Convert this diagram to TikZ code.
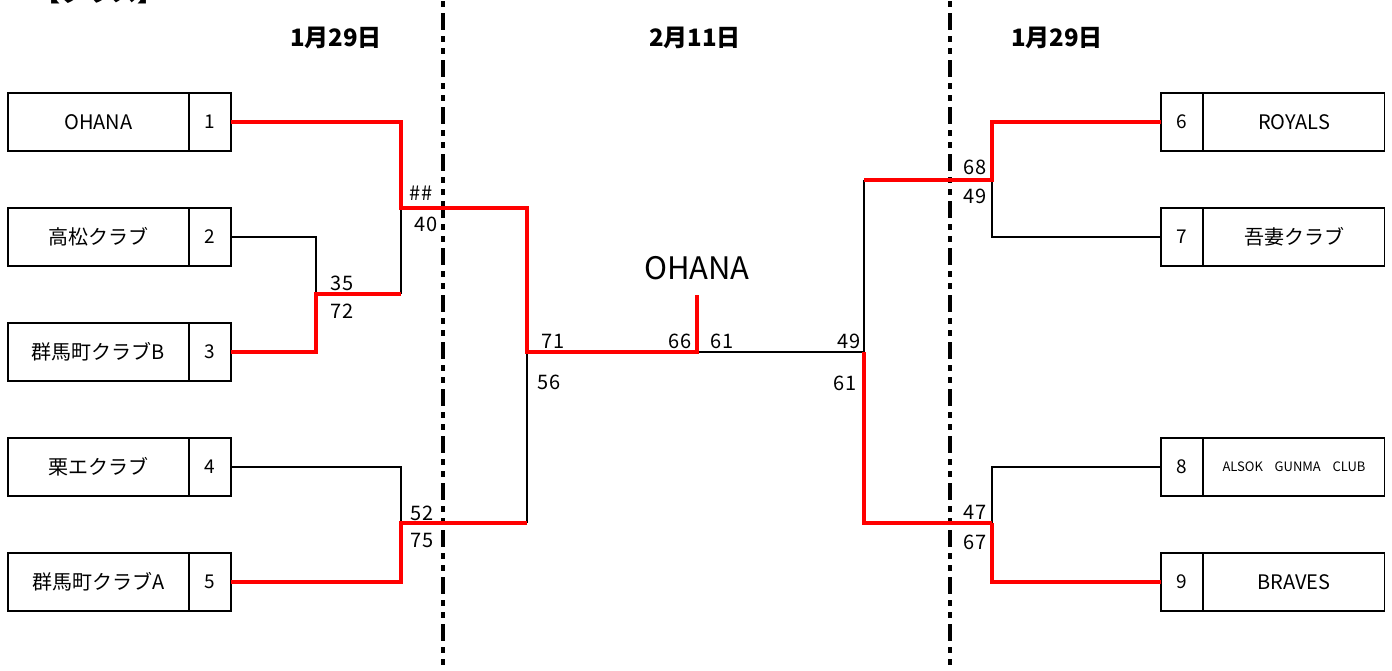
\documentclass[tikz,border=0pt]{standalone}
\usepackage{fontspec}
\setmainfont{Noto Sans CJK JP}
\begin{document}
\begin{tikzpicture}[x=1pt,y=-1pt,
  box/.style={draw,line width=1.6pt,inner sep=0pt,outer sep=0pt,minimum height=58pt,font=\fontsize{20}{20}\selectfont},
  namebox/.style={box,minimum width=181pt},
  seedbox/.style={box,minimum width=42pt,font=\fontsize{19}{19}\selectfont},
  thin/.style={line width=1.5pt,black},
  win/.style={line width=4.5pt,red,line join=miter},
  score/.style={inner sep=0pt,font=\fontsize{20}{20}\selectfont},
  date/.style={inner sep=0pt,font=\fontsize{24}{24}\selectfont\bfseries},
  sep/.style={line width=4pt,dash pattern=on 17pt off 6pt on 6pt off 6pt on 6pt off 6pt}]
\useasboundingbox (0,0) rectangle (1392,670);
% title (cut off at the top edge, as in the reference)
\node[inner sep=0pt,font=\fontsize{26}{26}\selectfont\bfseries,anchor=center] (title) at (99,-8) {【クラス】};
% dates
\node[date] (d1) at (336,38) {1月29日};
\node[date] (d2) at (695,38) {2月11日};
\node[date] (d3) at (1057,38) {1月29日};
% separators
\coordinate (v1t) at (443,-34); \coordinate (v1b) at (443,680);
\coordinate (v2t) at (950,-34); \coordinate (v2b) at (950,680);
\draw[sep] (v1t) -- (v1b);
\draw[sep] (v2t) -- (v2b);
% left boxes
\node[namebox] (n1) at (98.5,122) {OHANA};
\node[seedbox] (s1) at (210,122) {1};
\node[namebox] (n2) at (98.5,237) {高松クラブ};
\node[seedbox] (s2) at (210,237) {2};
\node[namebox] (n3) at (98.5,352) {群馬町クラブB};
\node[seedbox] (s3) at (210,352) {3};
\node[namebox] (n4) at (98.5,467) {栗エクラブ};
\node[seedbox] (s4) at (210,467) {4};
\node[namebox] (n5) at (98.5,582) {群馬町クラブA};
\node[seedbox] (s5) at (210,582) {5};
% right boxes
\node[seedbox] (s6) at (1182,122) {6};
\node[namebox] (n6) at (1294,122) {ROYALS};
\node[seedbox] (s7) at (1182,237) {7};
\node[namebox] (n7) at (1294,237) {吾妻クラブ};
\node[seedbox] (s8) at (1182,467) {8};
\node[namebox,font=\fontsize{13}{13}\selectfont] (n8) at (1294,467) {ALSOK\hspace{0.9em}GUNMA\hspace{0.9em}CLUB};
\node[seedbox] (s9) at (1182,582) {9};
\node[namebox] (n9) at (1294,582) {BRAVES};
% junctions
\coordinate (a1) at (401,208);
\coordinate (sf1) at (527,208);
\coordinate (b1) at (316,294);
\coordinate (b1r) at (401,294);
\coordinate (c1) at (401,523);
\coordinate (c1r) at (527,523);
\coordinate (semiL) at (527,352);
\coordinate (fin) at (697,352);
\coordinate (top) at (697,295);
\coordinate (semiR) at (864,352);
\coordinate (d1j) at (864,180);
\coordinate (e1) at (992,180);
\coordinate (f1) at (864,523);
\coordinate (g1) at (992,523);
% losing lines
\draw[thin] (s2.east) -| (b1);
\draw[thin] (b1r) -- (a1);
\draw[thin] (s4.east) -| (c1);
\draw[thin] (c1r) -- (semiL);
\draw[thin] (fin) -- (semiR) -- (d1j);
\draw[thin] (s7.west) -| (e1);
\draw[thin] (s8.west) -| (g1);
% winning lines
\draw[win] (s1.east) -| (a1) -- (sf1) -- (semiL) -- (fin) -- (top);
\draw[win] (s3.east) -| (b1) -- (b1r);
\draw[win] (s5.east) -| (c1) -- (c1r);
\draw[win] (s6.west) -| (e1) -- (d1j);
\draw[win] (semiR) -- (f1) -- (g1);
\draw[win] (s9.west) -| (g1);
% champion
\node[inner sep=0pt,font=\fontsize{31}{31}\selectfont] (champ) at (697,268) {OHANA};
% scores
\node[score] (p1) at (421,193) {\#\#};
\node[score] (p2) at (426,224) {40};
\node[score] (p3) at (342,283) {35};
\node[score] (p4) at (342,311) {72};
\node[score] (p5) at (422,513) {52};
\node[score] (p6) at (422,540) {75};
\node[score] (p7) at (553,341) {71};
\node[score] (p8) at (549,382) {56};
\node[score] (p9) at (680,341) {66};
\node[score] (p10) at (722,341) {61};
\node[score] (p11) at (849,341) {49};
\node[score] (p12) at (845,383) {61};
\node[score] (p13) at (975,167) {68};
\node[score] (p14) at (975,196) {49};
\node[score] (p15) at (975,512) {47};
\node[score] (p16) at (975,542) {67};
\end{tikzpicture}
\end{document}
